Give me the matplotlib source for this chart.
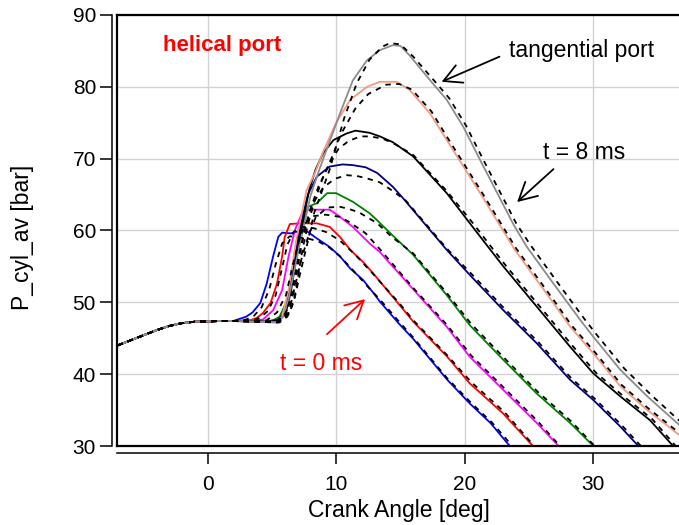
import matplotlib
matplotlib.use("Agg")
import matplotlib.pyplot as plt
from matplotlib.lines import Line2D

plt.rcParams['font.family'] = ['Liberation Sans', 'DejaVu Sans']

# --- common compression stroke (all runs overlap here) ---
comp_x = [-7.0, -6.0, -5.0, -4.0, -3.0, -2.0, -1.0, 0.0, 1.0, 2.0]
comp_y = [44.0, 44.7, 45.4, 46.1, 46.7, 47.1, 47.3, 47.35, 47.4, 47.4]

# --- helical port, t = 0 ... 8 ms (solid) ---
h0_x = [2.5, 3.0, 3.5, 4.1, 4.6, 5.1, 5.5, 5.8, 6.5, 7.3, 7.8, 8.5, 9.5, 10.3, 11.1, 12.1, 12.9, 13.4, 14.9, 16.0, 18.6, 20.4, 22.0, 23.5]
h0_y = [47.7, 48.0, 48.6, 49.9, 52.6, 56.4, 59.1, 59.7, 59.6, 60.0, 59.8, 58.9, 57.7, 56.4, 54.7, 53.1, 51.3, 50.1, 47.0, 44.9, 39.3, 35.9, 33.2, 30.0]
h1_x = [3.3, 3.8, 4.3, 4.9, 5.4, 5.8, 6.0, 6.4, 7.3, 8.5, 9.5, 10.3, 11.1, 12.1, 12.9, 13.4, 14.9, 16.0, 18.6, 20.4, 23.0, 25.3]
h1_y = [47.5, 47.8, 48.5, 49.9, 52.6, 56.4, 59.1, 60.9, 61.0, 61.0, 60.5, 59.1, 57.3, 55.6, 54.0, 52.9, 49.7, 47.3, 42.5, 38.7, 34.5, 30.0]
h2_x = [4.3, 5.1, 5.8, 6.3, 6.8, 7.3, 7.7, 9.5, 10.3, 11.3, 12.6, 13.4, 16.0, 18.6, 20.4, 23.0, 25.6, 27.3]
h2_y = [47.6, 48.9, 51.7, 56.4, 60.1, 62.2, 62.9, 62.9, 61.9, 60.5, 58.2, 57.0, 51.8, 46.6, 42.4, 37.8, 33.2, 30.0]
h3_x = [4.6, 5.2, 5.6, 6.2, 6.5, 6.9, 7.3, 7.8, 8.5, 9.3, 10.0, 11.3, 12.6, 13.2, 14.4, 16.0, 18.6, 20.4, 23.0, 25.6, 28.2, 30.0]
h3_y = [47.3, 47.6, 48.0, 50.3, 53.6, 56.8, 60.1, 63.3, 63.8, 65.2, 65.2, 64.0, 62.4, 61.4, 59.3, 56.6, 51.0, 46.8, 42.0, 37.3, 33.2, 30.0]
h4_x = [4.8, 5.5, 6.0, 6.4, 6.7, 7.0, 7.4, 7.8, 8.5, 9.5, 10.5, 11.3, 12.3, 13.2, 14.4, 15.2, 18.6, 20.4, 23.0, 25.6, 28.2, 30.0, 32.1, 33.5]
h4_y = [47.3, 47.6, 48.6, 51.7, 55.0, 58.5, 62.0, 65.0, 67.5, 68.9, 69.2, 69.1, 68.8, 68.0, 66.1, 64.5, 57.3, 53.8, 48.9, 44.3, 39.2, 36.4, 32.7, 30.0]
h5_x = [5.0, 5.6, 6.1, 6.5, 6.8, 7.1, 7.5, 7.9, 8.4, 9.0, 9.8, 10.8, 11.5, 12.6, 13.4, 14.4, 16.0, 18.6, 20.4, 22.0, 23.0, 25.6, 28.2, 30.0, 32.1, 34.4, 36.2]
h5_y = [47.3, 47.6, 48.6, 51.7, 55.0, 58.5, 62.0, 65.6, 68.5, 70.8, 72.6, 73.5, 73.9, 73.6, 73.1, 72.3, 70.3, 65.2, 61.0, 57.3, 55.0, 49.4, 43.8, 40.1, 36.9, 33.6, 30.0]
h6_x = [5.3, 5.8, 6.3, 6.9, 7.7, 8.3, 9.0, 10.0, 11.1, 12.4, 13.4, 14.7, 15.7, 17.3, 18.6, 19.9, 21.2, 22.5, 23.9, 25.6, 26.9, 28.2, 30.0, 32.1, 34.2, 36.7]
h6_y = [47.2, 48.0, 51.7, 58.7, 65.6, 67.8, 71.0, 75.0, 78.2, 80.0, 80.7, 80.7, 79.6, 76.3, 72.6, 68.9, 65.2, 61.4, 57.3, 53.1, 49.9, 46.6, 42.9, 38.3, 35.0, 31.5]
h7_x = [5.4, 5.9, 6.3, 6.7, 7.1, 7.6, 8.0, 8.6, 9.1, 10.3, 11.3, 12.4, 13.4, 14.4, 15.0, 15.7, 17.5, 18.6, 19.9, 21.2, 22.5, 23.8, 24.8, 26.9, 29.0, 30.0, 32.1, 34.2, 36.7]
h7_y = [47.2, 48.0, 50.5, 54.0, 57.5, 61.5, 64.8, 68.0, 70.5, 76.3, 80.9, 83.7, 85.1, 85.8, 85.7, 84.4, 80.5, 78.2, 74.4, 69.8, 65.3, 60.8, 57.8, 52.6, 47.5, 45.2, 40.6, 36.9, 32.9]

# --- tangential port, same injection timings (dashed) ---
d0_x = [3.0, 3.6, 4.2, 4.8, 5.3, 5.8, 6.4, 7.2, 8.0, 8.7, 9.5, 10.3, 11.3, 12.6, 13.4, 14.9, 16.0, 18.6, 20.5, 22.1, 23.7]
d0_y = [47.6, 48.1, 49.3, 51.8, 55.3, 58.2, 59.2, 59.0, 58.8, 58.4, 57.6, 56.4, 54.5, 51.9, 50.4, 47.3, 45.1, 39.5, 36.0, 33.3, 30.0]
d1_x = [3.6, 4.1, 4.7, 5.3, 5.8, 6.2, 6.7, 7.4, 8.3, 9.2, 10.3, 11.5, 12.9, 14.9, 16.0, 18.6, 20.5, 23.1, 25.4]
d1_y = [47.5, 47.9, 48.8, 51.0, 54.8, 58.0, 59.8, 60.5, 60.3, 59.8, 58.6, 56.6, 53.9, 49.9, 47.5, 42.7, 38.9, 34.7, 30.0]
d2_x = [4.6, 5.4, 6.1, 6.6, 7.1, 7.6, 8.2, 9.2, 10.3, 11.0, 12.3, 13.4, 16.0, 18.6, 20.5, 23.1, 25.7, 27.4]
d2_y = [47.5, 48.6, 51.0, 55.0, 58.5, 61.0, 62.0, 62.2, 61.9, 61.2, 59.6, 57.4, 52.0, 46.9, 42.6, 38.0, 33.4, 30.0]
d3_x = [4.9, 5.5, 5.9, 6.5, 6.9, 7.3, 7.8, 8.4, 9.3, 10.3, 11.0, 11.8, 13.2, 14.4, 16.0, 18.6, 20.5, 23.1, 25.7, 28.3, 30.1]
d3_y = [47.3, 47.6, 48.0, 50.0, 53.0, 56.0, 59.0, 61.8, 63.2, 63.3, 63.0, 62.5, 61.0, 59.0, 56.8, 51.3, 47.0, 42.2, 37.5, 33.4, 30.0]
d4_x = [5.1, 5.8, 6.3, 6.7, 7.0, 7.3, 7.7, 8.2, 9.0, 9.9, 10.8, 11.6, 12.5, 13.4, 14.4, 15.4, 18.6, 20.5, 23.1, 25.7, 28.3, 30.1, 32.2, 33.7]
d4_y = [47.3, 47.6, 48.6, 51.5, 54.8, 58.0, 61.0, 63.8, 66.0, 67.2, 67.7, 67.6, 67.2, 66.7, 65.5, 64.2, 57.5, 54.0, 49.1, 44.5, 39.4, 36.6, 32.9, 30.0]
d5_x = [5.3, 5.9, 6.4, 6.8, 7.1, 7.4, 7.8, 8.3, 8.9, 9.5, 10.2, 11.0, 11.9, 12.6, 13.6, 14.6, 16.0, 18.6, 20.6, 22.2, 23.2, 25.8, 28.4, 30.2, 32.3, 34.6, 36.4]
d5_y = [47.3, 47.6, 48.6, 51.0, 54.3, 57.5, 60.8, 64.0, 67.0, 69.5, 71.4, 72.5, 73.1, 73.1, 72.8, 72.0, 70.5, 65.5, 61.1, 57.4, 55.1, 49.5, 43.9, 40.2, 37.0, 33.7, 30.0]
d6_x = [5.5, 6.0, 6.5, 7.1, 7.9, 8.6, 9.4, 10.4, 11.5, 12.5, 13.9, 14.9, 15.9, 17.4, 18.7, 20.0, 21.3, 22.6, 24.0, 25.7, 27.0, 28.3, 30.1, 32.2, 34.3, 36.7]
d6_y = [47.2, 48.0, 50.8, 56.5, 62.5, 66.0, 69.0, 73.5, 77.0, 79.0, 80.3, 80.4, 79.6, 76.6, 72.8, 69.1, 65.4, 61.6, 57.5, 53.3, 50.1, 46.8, 43.1, 38.5, 35.2, 31.8]
d7_x = [5.6, 6.2, 6.7, 7.2, 7.8, 8.3, 8.9, 9.5, 10.6, 11.6, 12.6, 13.6, 14.2, 15.0, 16.0, 17.7, 18.8, 20.1, 21.4, 22.7, 24.0, 25.1, 27.2, 29.3, 30.3, 32.4, 34.5, 36.7]
d7_y = [47.2, 48.0, 50.0, 54.0, 58.5, 62.5, 65.5, 68.5, 75.5, 80.5, 83.8, 85.6, 86.1, 85.9, 84.2, 80.7, 78.4, 74.6, 70.0, 65.5, 61.0, 58.0, 52.8, 47.7, 45.4, 40.8, 37.1, 33.5]

helical = [(h0_x, h0_y), (h1_x, h1_y), (h2_x, h2_y), (h3_x, h3_y),
           (h4_x, h4_y), (h5_x, h5_y), (h6_x, h6_y), (h7_x, h7_y)]
tangential = [(d0_x, d0_y), (d1_x, d1_y), (d2_x, d2_y), (d3_x, d3_y),
              (d4_x, d4_y), (d5_x, d5_y), (d6_x, d6_y), (d7_x, d7_y)]
colors = ['#0000ff', '#ff0000', '#ff00ff', '#008000',
          '#000080', '#000000', '#f59a80', '#8c8c8c']

fig = plt.figure(figsize=(6.79, 5.25), dpi=100)
ax = fig.add_axes([117 / 679, 79 / 525, 1 - 117 / 679, 431 / 525])

for (xs, ys), c in zip(helical, colors):
    ax.plot(comp_x + xs, comp_y + ys, color=c, lw=1.3, zorder=3)
for xs, ys in tangential:
    ax.plot(comp_x + xs, comp_y + ys, color='black', lw=1.3,
            ls=(0, (3, 3)), zorder=4)

ax.set_xlim(-7.04, 36.66)
ax.set_ylim(30, 90)
ax.set_xticks([0, 10, 20, 30])
ax.set_yticks([30, 40, 50, 60, 70, 80, 90])
ax.grid(True, color='#d2d2d2', lw=1.0)
ax.set_axisbelow(True)

# offset axis lines carrying the ticks, plus the plot frame
ax.spines['right'].set_visible(False)
ax.spines['top'].set_linewidth(1.6)
ax.spines['left'].set_position(('outward', 3.6))
ax.spines['bottom'].set_position(('outward', 5.0))
for s in ('left', 'bottom'):
    ax.spines[s].set_linewidth(1.1)
ax.add_line(Line2D([0, 0], [0, 1], transform=ax.transAxes, color='black',
                   lw=1.6, clip_on=False, zorder=5))
ax.add_line(Line2D([0, 1], [0, 0], transform=ax.transAxes, color='black',
                   lw=1.6, clip_on=False, zorder=5))

ax.tick_params(axis='both', direction='out', width=1.1, labelsize=15)
ax.tick_params(axis='y', length=8.5, pad=3)
ax.tick_params(axis='x', length=8, pad=8)

fig.text(399 / 679, 1 - 510 / 525, 'Crank Angle [deg]', fontsize=16.5,
         ha='center', va='center')
fig.text(22 / 679, 1 - 237 / 525, 'P_cyl_av [bar]', fontsize=16.5,
         ha='center', va='center', rotation=90)

ax.text(-3.46, 85.8, 'helical port', color='#ff0000', fontsize=16,
        fontweight='bold', va='center', ha='left')
ax.text(23.44, 85.1, 'tangential port', fontsize=16.5, va='center', ha='left')
ax.text(26.09, 70.9, 't = 8 ms', fontsize=16.5, va='center', ha='left')
ax.text(5.64, 41.55, 't = 0 ms', color='#ff0000', fontsize=16.5,
        va='center', ha='left')

arrow = dict(arrowstyle='->,head_length=0.75,head_width=0.4', lw=1.3,
             shrinkA=0, shrinkB=0, mutation_scale=17)
ax.annotate('', xy=(18.2, 80.7), xytext=(22.7, 84.2),
            arrowprops=dict(arrow, color='black'))
ax.annotate('', xy=(24.07, 63.96), xytext=(26.9, 68.55),
            arrowprops=dict(arrow, color='black'))
ax.annotate('', xy=(12.25, 50.45), xytext=(9.29, 45.57),
            arrowprops=dict(arrow, color='#ff0000'))

fig.savefig('out.png', dpi=100)
